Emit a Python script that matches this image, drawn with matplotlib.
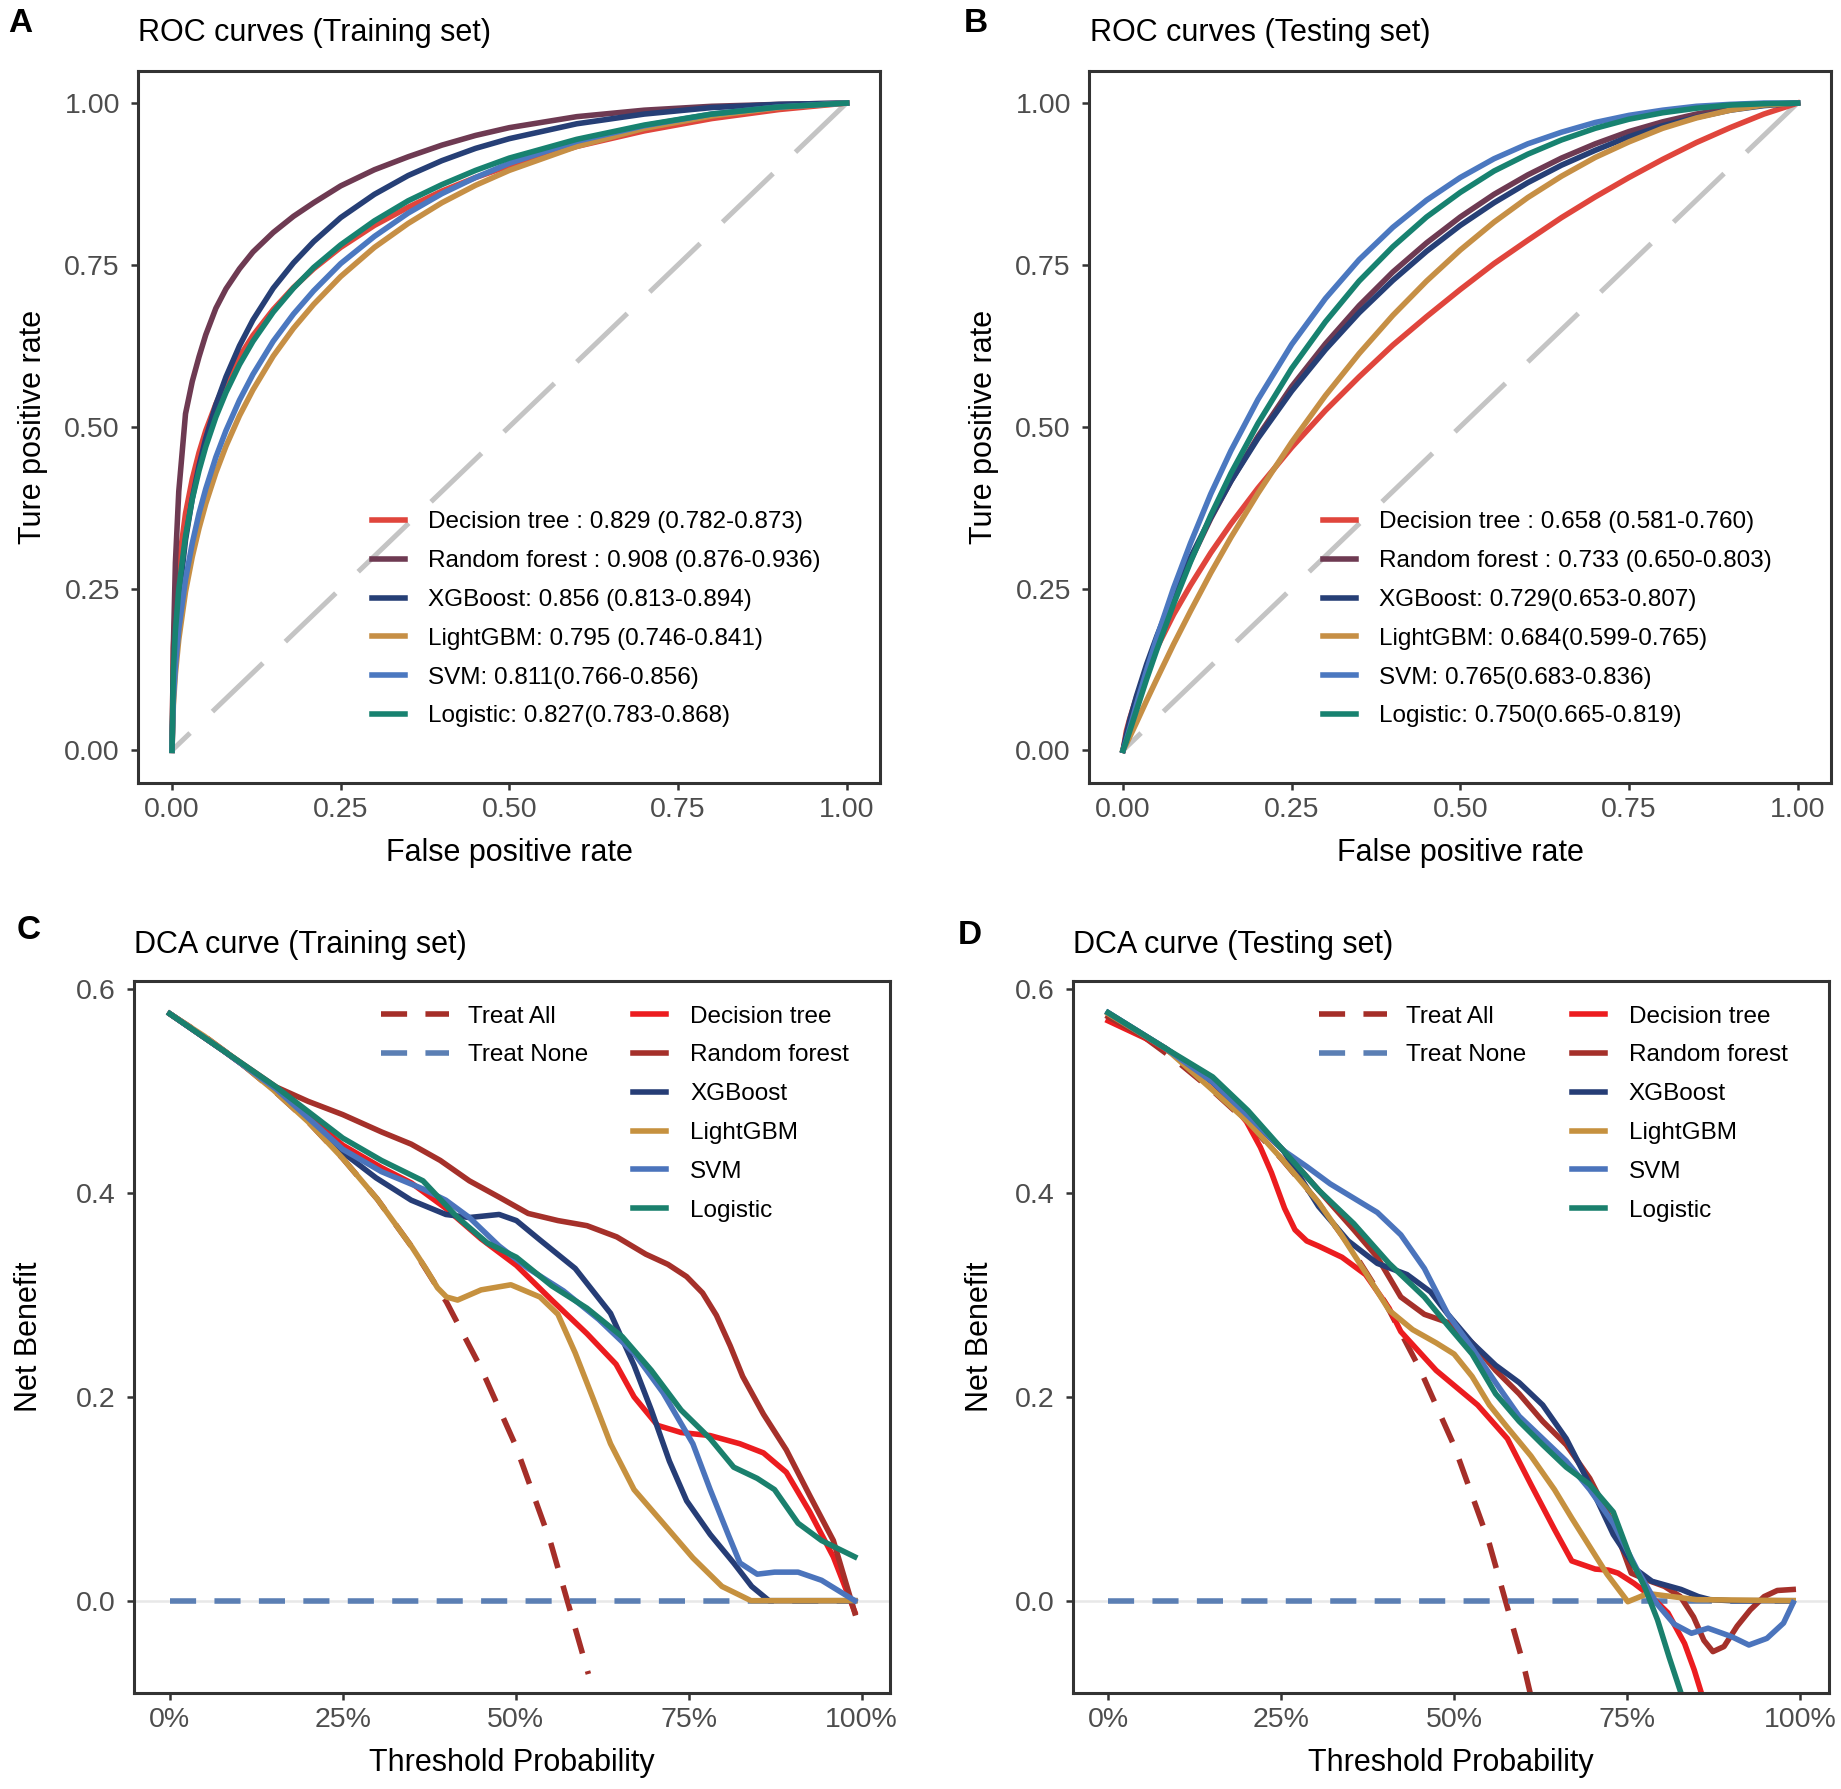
import numpy as np
import matplotlib
matplotlib.use('Agg')
import matplotlib.pyplot as plt

plt.rcParams['font.family'] = ['Liberation Sans', 'DejaVu Sans']

# ---------------- data ----------------
models = ['Decision tree', 'Random forest', 'XGBoost', 'LightGBM', 'SVM', 'Logistic']

# ROC, training set (false positive rate grid, true positive rate per model)
roc_tr_x = [0, 0.002, 0.005, 0.01, 0.02, 0.03, 0.04, 0.05, 0.065, 0.08, 0.1, 0.12, 0.15,
            0.18, 0.21, 0.25, 0.3, 0.35, 0.4, 0.45, 0.5, 0.6, 0.7, 0.8, 0.9, 1.0]
roc_tr_dt = [0, 0.158, 0.223, 0.287, 0.366, 0.419, 0.46, 0.494, 0.535, 0.57, 0.608, 0.641, 0.681,
             0.715, 0.744, 0.777, 0.811, 0.839, 0.864, 0.885, 0.903, 0.933, 0.957, 0.976, 0.99, 1.0]
roc_tr_rf = [0, 0.16, 0.29, 0.40, 0.52, 0.57, 0.608, 0.642, 0.683, 0.713, 0.744, 0.77, 0.80,
             0.825, 0.846, 0.872, 0.897, 0.917, 0.935, 0.95, 0.962, 0.979, 0.989, 0.995, 0.998, 1.0]
roc_tr_xgb = [0, 0.101, 0.165, 0.234, 0.325, 0.389, 0.44, 0.482, 0.534, 0.577, 0.625, 0.665, 0.714,
              0.753, 0.786, 0.823, 0.859, 0.888, 0.911, 0.93, 0.945, 0.968, 0.983, 0.993, 0.998, 1.0]
roc_tr_lgbm = [0, 0.07, 0.118, 0.171, 0.245, 0.299, 0.343, 0.381, 0.429, 0.47, 0.517, 0.557, 0.609,
               0.652, 0.689, 0.732, 0.777, 0.814, 0.846, 0.873, 0.896, 0.933, 0.961, 0.98, 0.993, 1.0]
roc_tr_svm = [0, 0.079, 0.13, 0.187, 0.264, 0.32, 0.366, 0.404, 0.453, 0.494, 0.541, 0.581, 0.632,
              0.674, 0.71, 0.752, 0.794, 0.83, 0.86, 0.885, 0.907, 0.941, 0.965, 0.983, 0.994, 1.0]
roc_tr_log = [0, 0.122, 0.185, 0.249, 0.331, 0.388, 0.432, 0.469, 0.515, 0.553, 0.596, 0.632, 0.677,
              0.714, 0.746, 0.781, 0.818, 0.849, 0.874, 0.896, 0.915, 0.944, 0.966, 0.983, 0.994, 1.0]
roc_tr_labels = ['Decision tree : 0.829 (0.782-0.873)',
                 'Random forest : 0.908 (0.876-0.936)',
                 'XGBoost: 0.856 (0.813-0.894)',
                 'LightGBM: 0.795 (0.746-0.841)',
                 'SVM: 0.811(0.766-0.856)',
                 'Logistic: 0.827(0.783-0.868)']

# ROC, testing set
roc_te_x = [0, 0.005, 0.01, 0.02, 0.035, 0.05, 0.075, 0.1, 0.13, 0.16, 0.2, 0.25, 0.3, 0.35,
            0.4, 0.45, 0.5, 0.55, 0.6, 0.65, 0.7, 0.75, 0.8, 0.85, 0.9, 0.95, 1.0]
roc_te_dt = [0, 0.03, 0.049, 0.082, 0.123, 0.158, 0.21, 0.255, 0.305, 0.35, 0.405, 0.468, 0.525, 0.577,
             0.626, 0.67, 0.712, 0.752, 0.788, 0.823, 0.855, 0.885, 0.913, 0.939, 0.962, 0.983, 1.0]
roc_te_rf = [0, 0.021, 0.04, 0.076, 0.124, 0.168, 0.234, 0.293, 0.358, 0.416, 0.485, 0.562, 0.628, 0.687,
             0.739, 0.784, 0.824, 0.859, 0.889, 0.915, 0.937, 0.956, 0.971, 0.983, 0.992, 0.998, 1.0]
roc_te_xgb = [0, 0.025, 0.047, 0.084, 0.133, 0.176, 0.241, 0.298, 0.36, 0.416, 0.482, 0.555, 0.619, 0.676,
              0.726, 0.771, 0.811, 0.846, 0.877, 0.904, 0.927, 0.948, 0.965, 0.978, 0.989, 0.996, 1.0]
roc_te_lgbm = [0, 0.01, 0.021, 0.043, 0.077, 0.11, 0.164, 0.215, 0.274, 0.329, 0.397, 0.476, 0.548, 0.613,
               0.672, 0.725, 0.773, 0.816, 0.854, 0.887, 0.916, 0.94, 0.961, 0.977, 0.989, 0.997, 1.0]
roc_te_svm = [0, 0.016, 0.034, 0.071, 0.124, 0.174, 0.251, 0.32, 0.396, 0.463, 0.542, 0.627, 0.698, 0.758,
              0.808, 0.85, 0.885, 0.914, 0.937, 0.955, 0.97, 0.981, 0.989, 0.995, 0.998, 1.0, 1.0]
roc_te_log = [0, 0.014, 0.03, 0.062, 0.11, 0.155, 0.226, 0.291, 0.363, 0.428, 0.505, 0.59, 0.662, 0.725,
              0.778, 0.824, 0.862, 0.895, 0.921, 0.943, 0.961, 0.975, 0.985, 0.992, 0.997, 0.999, 1.0]
roc_te_labels = ['Decision tree : 0.658 (0.581-0.760)',
                 'Random forest : 0.733 (0.650-0.803)',
                 'XGBoost: 0.729(0.653-0.807)',
                 'LightGBM: 0.684(0.599-0.765)',
                 'SVM: 0.765(0.683-0.836)',
                 'Logistic: 0.750(0.665-0.819)']

# DCA, training set
dca_tr_all_x = [0, 0.05, 0.1, 0.15, 0.2, 0.25, 0.3, 0.35, 0.4, 0.45, 0.5, 0.55, 0.605]
dca_tr_all_y = [0.576, 0.554, 0.529, 0.501, 0.470, 0.434, 0.394, 0.347, 0.293, 0.228, 0.152, 0.058, -0.072]
dca_tr_dt_x = [0, 0.077, 0.154, 0.25, 0.306, 0.349, 0.399, 0.45, 0.501, 0.552, 0.603, 0.645, 0.671, 0.705,
               0.739, 0.781, 0.824, 0.858, 0.891, 0.925, 0.959, 0.99]
dca_tr_dt_y = [0.576, 0.54, 0.502, 0.447, 0.425, 0.41, 0.385, 0.355, 0.329, 0.295, 0.262, 0.232, 0.2, 0.172,
               0.165, 0.162, 0.154, 0.145, 0.126, 0.087, 0.043, -0.011]
dca_tr_rf_x = [0, 0.077, 0.154, 0.2, 0.25, 0.306, 0.349, 0.391, 0.433, 0.476, 0.518, 0.561, 0.603, 0.646,
               0.688, 0.72, 0.747, 0.77, 0.79, 0.81, 0.828, 0.858, 0.891, 0.925, 0.959, 0.99]
dca_tr_rf_y = [0.576, 0.54, 0.504, 0.49, 0.477, 0.46, 0.448, 0.432, 0.412, 0.396, 0.38, 0.373, 0.368, 0.357,
               0.34, 0.33, 0.318, 0.302, 0.28, 0.25, 0.22, 0.183, 0.148, 0.103, 0.059, -0.012]
dca_tr_xgb_x = [0, 0.077, 0.154, 0.25, 0.298, 0.349, 0.399, 0.433, 0.476, 0.501, 0.535, 0.586, 0.637,
                0.671, 0.696, 0.722, 0.747, 0.781, 0.815, 0.841, 0.866, 0.99]
dca_tr_xgb_y = [0.576, 0.54, 0.502, 0.44, 0.415, 0.393, 0.379, 0.376, 0.379, 0.373, 0.354, 0.326, 0.282,
                0.231, 0.187, 0.137, 0.098, 0.065, 0.037, 0.014, 0.0, 0.0]
dca_tr_lgbm_x = [0, 0.05, 0.1, 0.15, 0.2, 0.25, 0.3, 0.35, 0.37, 0.387, 0.40, 0.416, 0.45, 0.493,
                 0.535, 0.561, 0.586, 0.612, 0.637, 0.671, 0.713, 0.756, 0.798, 0.84, 0.99]
dca_tr_lgbm_y = [0.576, 0.554, 0.529, 0.501, 0.470, 0.434, 0.394, 0.347, 0.326, 0.307, 0.298, 0.295, 0.305, 0.31,
                 0.298, 0.281, 0.243, 0.198, 0.154, 0.109, 0.076, 0.042, 0.014, 0.0, 0.0]
dca_tr_svm_x = [0, 0.077, 0.154, 0.25, 0.306, 0.366, 0.399, 0.433, 0.476, 0.518, 0.569, 0.620, 0.671,
                0.713, 0.756, 0.781, 0.807, 0.824, 0.849, 0.874, 0.908, 0.942, 0.99]
dca_tr_svm_y = [0.576, 0.54, 0.502, 0.443, 0.421, 0.404, 0.393, 0.376, 0.348, 0.326, 0.304, 0.276, 0.243,
                0.204, 0.154, 0.109, 0.065, 0.037, 0.026, 0.028, 0.028, 0.020, 0.0]
dca_tr_log_x = [0, 0.077, 0.154, 0.25, 0.306, 0.366, 0.416, 0.459, 0.501, 0.552, 0.603, 0.654, 0.696,
                0.739, 0.781, 0.815, 0.849, 0.874, 0.908, 0.942, 0.99]
dca_tr_log_y = [0.576, 0.54, 0.504, 0.454, 0.432, 0.412, 0.376, 0.351, 0.337, 0.309, 0.287, 0.259, 0.226,
                0.187, 0.159, 0.131, 0.12, 0.109, 0.076, 0.059, 0.043]

# DCA, testing set
dca_te_all_x = [0, 0.05, 0.1, 0.15, 0.2, 0.25, 0.3, 0.35, 0.4, 0.45, 0.5, 0.55, 0.6, 0.62]
dca_te_all_y = [0.576, 0.554, 0.529, 0.501, 0.470, 0.434, 0.394, 0.347, 0.293, 0.228, 0.152, 0.058, -0.062, -0.12]
dca_te_dt_x = [0, 0.066, 0.134, 0.17, 0.2, 0.22, 0.236, 0.255, 0.270, 0.287, 0.304, 0.338, 0.372, 0.406,
               0.423, 0.474, 0.534, 0.577, 0.611, 0.645, 0.670, 0.704, 0.723, 0.737, 0.76, 0.785, 0.809,
               0.833, 0.847, 0.857, 0.865]
dca_te_dt_y = [0.569, 0.548, 0.52, 0.495, 0.47, 0.445, 0.42, 0.385, 0.364, 0.353, 0.348, 0.337, 0.32, 0.287,
               0.264, 0.226, 0.192, 0.159, 0.114, 0.07, 0.039, 0.031, 0.030, 0.027, 0.017, 0.004, -0.012,
               -0.042, -0.068, -0.09, -0.11]
dca_te_rf_x = [0, 0.083, 0.151, 0.202, 0.253, 0.304, 0.355, 0.389, 0.423, 0.457, 0.491, 0.526, 0.560, 0.594,
               0.628, 0.662, 0.696, 0.730, 0.756, 0.78, 0.804, 0.827, 0.846, 0.861, 0.874, 0.89, 0.909, 0.928,
               0.948, 0.967, 0.99]
dca_te_rf_y = [0.573, 0.542, 0.509, 0.476, 0.442, 0.403, 0.364, 0.337, 0.298, 0.281, 0.273, 0.253, 0.226, 0.203,
               0.176, 0.153, 0.12, 0.075, 0.027, 0.020, 0.014, 0.004, -0.016, -0.039, -0.05, -0.045, -0.025,
               -0.009, 0.004, 0.010, 0.011]
dca_te_xgb_x = [0, 0.083, 0.151, 0.202, 0.253, 0.304, 0.347, 0.389, 0.432, 0.466, 0.491, 0.526, 0.560, 0.594,
                0.628, 0.662, 0.696, 0.73, 0.764, 0.786, 0.828, 0.853, 0.87, 0.9, 0.99]
dca_te_xgb_y = [0.577, 0.542, 0.509, 0.476, 0.442, 0.387, 0.353, 0.331, 0.320, 0.303, 0.281, 0.253, 0.231, 0.214,
                0.192, 0.159, 0.114, 0.065, 0.03, 0.019, 0.011, 0.004, 0.001, 0.0, 0.0]
dca_te_lgbm_x = [0, 0.083, 0.151, 0.202, 0.253, 0.304, 0.338, 0.372, 0.406, 0.440, 0.474, 0.5, 0.526, 0.551,
                 0.577, 0.611, 0.645, 0.670, 0.696, 0.721, 0.751, 0.78, 0.85, 0.99]
dca_te_lgbm_y = [0.576, 0.542, 0.501, 0.47, 0.432, 0.391, 0.358, 0.322, 0.285, 0.266, 0.253, 0.242, 0.22, 0.192,
                 0.17, 0.142, 0.109, 0.081, 0.053, 0.026, -0.001, 0.007, 0.001, 0.0]
dca_te_svm_x = [0, 0.083, 0.151, 0.202, 0.253, 0.287, 0.321, 0.355, 0.389, 0.423, 0.457, 0.491, 0.526, 0.560,
                0.594, 0.628, 0.662, 0.696, 0.730, 0.764, 0.793, 0.818, 0.843, 0.867, 0.9, 0.926, 0.952, 0.976, 0.99]
dca_te_svm_y = [0.577, 0.542, 0.509, 0.476, 0.442, 0.426, 0.409, 0.395, 0.381, 0.359, 0.326, 0.281, 0.248, 0.214,
                0.181, 0.159, 0.137, 0.109, 0.076, 0.031, -0.003, -0.023, -0.032, -0.027, -0.035, -0.0435,
                -0.037, -0.022, -0.002]
dca_te_log_x = [0, 0.083, 0.151, 0.202, 0.253, 0.304, 0.355, 0.406, 0.457, 0.491, 0.526, 0.560, 0.594, 0.628,
                0.662, 0.696, 0.730, 0.756, 0.775, 0.794, 0.811, 0.828, 0.84]
dca_te_log_y = [0.577, 0.542, 0.514, 0.481, 0.442, 0.403, 0.37, 0.331, 0.298, 0.27, 0.242, 0.203, 0.176, 0.153,
                0.131, 0.114, 0.087, 0.04, 0.014, -0.019, -0.056, -0.091, -0.12]

treat_none_x = [0, 0.99]
treat_none_y = [0, 0]

roc_ticks = [0, 0.25, 0.5, 0.75, 1.0]
roc_ticklabels = ['0.00', '0.25', '0.50', '0.75', '1.00']
dca_xticks = [0, 0.25, 0.5, 0.75, 1.0]
dca_xticklabels = ['0%', '25%', '50%', '75%', '100%']
dca_yticks = [0, 0.2, 0.4, 0.6]
dca_yticklabels = ['0.0', '0.2', '0.4', '0.6']

roc_colors = ['#E0453C', '#6E3A52', '#263F76', '#C68F45', '#4B78C0', '#178270']
dca_colors = ['#EC1C1F', '#A5302A', '#263D76', '#C6913F', '#4B74BC', '#1A806D']
all_color = '#A52E28'
none_color = '#5B7FB4'

# ---------------- figure ----------------
W, H = 1841, 1789
fig = plt.figure(figsize=(W / 100, H / 100), dpi=100)


def ax_px(l, t, r, b):
    return fig.add_axes([l / W, 1 - b / H, (r - l) / W, (b - t) / H])


def style(ax):
    for s in ax.spines.values():
        s.set_linewidth(2.2)
        s.set_color('#333333')
    ax.tick_params(axis='both', length=5.2, width=1.8, color='#333333',
                   labelsize=20.5, labelcolor='#4D4D4D')
    ax.tick_params(axis='x', pad=5)
    ax.tick_params(axis='y', pad=8)


LW = 4.0
LEG = dict(frameon=False, fontsize=17.5, labelspacing=0.69, borderpad=0,
           borderaxespad=0, loc='upper left')


def roc_panel(ax, x, curves, labels, ylab_x):
    ax.plot([0, 1], [0, 1], color='#C4C4C4', lw=3.6,
            linestyle=(9.0, (14.0, 6.2)), zorder=1)
    handles = []
    for y, lab, c in zip(curves, labels, roc_colors):
        h, = ax.plot(x, y, color=c, lw=LW, label=lab, zorder=2)
        handles.append(h)
    ax.set_xlim(-0.05, 1.05)
    ax.set_ylim(-0.05, 1.05)
    ax.set_xticks(roc_ticks, roc_ticklabels)
    ax.set_yticks(roc_ticks, roc_ticklabels)
    style(ax)
    ax.set_xlabel('False positive rate', fontsize=22, va='center')
    ax.set_ylabel('Ture positive rate', fontsize=22, va='center')
    ax.xaxis.set_label_coords(0.5, -0.099)
    ax.yaxis.set_label_coords(ylab_x, 0.5)
    ax.legend(handles=handles, bbox_to_anchor=(0.315, 0.381),
              handlelength=1.36, handletextpad=0.95, **LEG)


def dca_panel(ax, all_xy, curves, ylab_x):
    ax.axhline(0, color='#E8E8E8', lw=1.8, zorder=0)
    h_all, = ax.plot(all_xy[0], all_xy[1], color=all_color, lw=LW,
                     linestyle=(0, (4.7, 3.3)), label='Treat All', zorder=1)
    h_none, = ax.plot(treat_none_x, treat_none_y, color=none_color, lw=LW,
                      linestyle=(0, (4.7, 3.3)), label='Treat None', zorder=1)
    handles = []
    for (x, y), lab, c in zip(curves, models, dca_colors):
        h, = ax.plot(x, y, color=c, lw=LW, label=lab, zorder=2)
        handles.append(h)
    ax.set_xlim(-0.0512, 1.0413)
    ax.set_ylim(-0.0909, 0.6084)
    ax.set_xticks(dca_xticks, dca_xticklabels)
    ax.set_yticks(dca_yticks, dca_yticklabels)
    style(ax)
    ax.set_xlabel('Threshold Probability', fontsize=22, va='center')
    ax.set_ylabel('Net Benefit', fontsize=22, va='center')
    ax.xaxis.set_label_coords(0.5, -0.0975)
    ax.yaxis.set_label_coords(ylab_x, 0.5)
    leg1 = ax.legend(handles=[h_all, h_none], bbox_to_anchor=(0.326, 0.965),
                     handlelength=2.8, handletextpad=0.78, **LEG)
    ax.add_artist(leg1)
    ax.legend(handles=handles, bbox_to_anchor=(0.660, 0.965),
              handlelength=1.36, handletextpad=0.99, **LEG)


axA = ax_px(138.3, 70.7, 880.3, 782.7)
axB = ax_px(1089.3, 70.7, 1831.3, 782.7)
axC = ax_px(134.3, 980.7, 890.3, 1693.3)
axD = ax_px(1072.7, 980.7, 1828.7, 1693.3)

roc_panel(axA, roc_tr_x, [roc_tr_dt, roc_tr_rf, roc_tr_xgb, roc_tr_lgbm, roc_tr_svm, roc_tr_log],
          roc_tr_labels, -0.142)
roc_panel(axB, roc_te_x, [roc_te_dt, roc_te_rf, roc_te_xgb, roc_te_lgbm, roc_te_svm, roc_te_log],
          roc_te_labels, -0.142)
dca_panel(axC, (dca_tr_all_x, dca_tr_all_y),
          [(dca_tr_dt_x, dca_tr_dt_y), (dca_tr_rf_x, dca_tr_rf_y), (dca_tr_xgb_x, dca_tr_xgb_y),
           (dca_tr_lgbm_x, dca_tr_lgbm_y), (dca_tr_svm_x, dca_tr_svm_y), (dca_tr_log_x, dca_tr_log_y)],
          -0.139)
dca_panel(axD, (dca_te_all_x, dca_te_all_y),
          [(dca_te_dt_x, dca_te_dt_y), (dca_te_rf_x, dca_te_rf_y), (dca_te_xgb_x, dca_te_xgb_y),
           (dca_te_lgbm_x, dca_te_lgbm_y), (dca_te_svm_x, dca_te_svm_y), (dca_te_log_x, dca_te_log_y)],
          -0.122)


# titles and panel letters (pixel positions, baseline)
def ftext(x, y, s, **kw):
    fig.text(x / W, 1 - y / H, s, va='baseline', ha='left', **kw)


ftext(138.5, 41.5, 'ROC curves (Training set)', fontsize=22)
ftext(1089.5, 41.5, 'ROC curves (Testing set)', fontsize=22)
ftext(134.5, 953.5, 'DCA curve (Training set)', fontsize=22)
ftext(1073, 953.5, 'DCA curve (Testing set)', fontsize=22)
ftext(8, 32, 'A', fontsize=24, fontweight='bold')
ftext(964, 32, 'B', fontsize=24, fontweight='bold')
ftext(17, 939, 'C', fontsize=24, fontweight='bold')
ftext(958, 944, 'D', fontsize=24, fontweight='bold')

fig.savefig('out.png', dpi=100)
